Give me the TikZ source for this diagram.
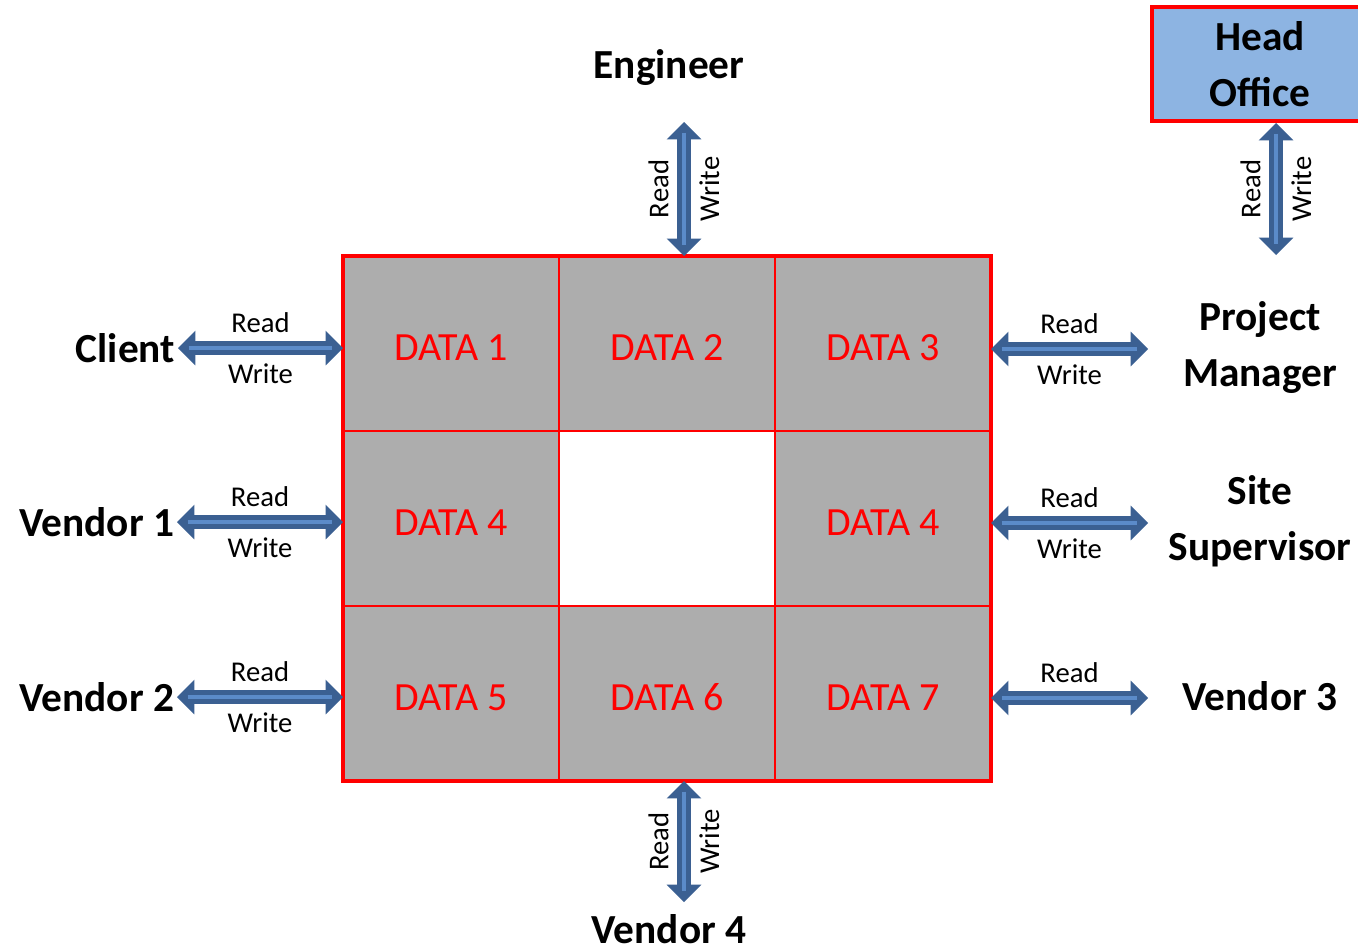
\documentclass[tikz,border=0pt]{standalone}
\usepackage{fontspec}
\setmainfont{Carlito}
\usetikzlibrary{
  arrows.meta,
  positioning
}
\definecolor{rwdark}{HTML}{3B6092}
\definecolor{rwlight}{HTML}{5B8BC9}
\definecolor{cellgray}{HTML}{ADADAD}
\definecolor{hofill}{HTML}{8DB4E2}

\begin{document}
\begin{tikzpicture}[
  x=0.75pt,
  y=-0.75pt,
  node distance=0pt,
  cell/.style={
    draw=red,
    line width=1.5pt,
    fill=cellgray,
    outer sep=0pt,
    inner sep=0pt,
    minimum width=162pt,
    minimum height=131.25pt,
    text=red,
    text height=25pt,
    font=\fontsize{30}{36}\selectfont
  },
  hole/.style={
    cell,
    fill=white
  },
  who/.style={
    font=\bfseries\fontsize{31}{42}\selectfont,
    align=center,
    inner sep=2pt
  },
  office/.style={
    who,
    draw=red,
    line width=3pt,
    fill=hofill,
    minimum width=162pt,
    minimum height=85.5pt
  },
  rwlabel/.style={
    font=\fontsize{21.5}{26}\selectfont,
    inner sep=6pt
  },
  rw/.style={
    draw=rwdark,
    line width=11pt,
    >={Triangle[width=26pt,length=13pt,line width=0pt]},
    <->,
    postaction={draw=rwlight, line width=3pt, -, shorten <=8pt, shorten >=8pt}
  },
  frame/.style={
    draw=red,
    line width=3pt
  }
]

\useasboundingbox (0,0) rectangle (1358,947);
\fill[white] (0,0) rectangle (1358,947);

% --- data grid ---
\node[cell] (d1) at (451,343.5) {DATA 1};
\node[cell,right=of d1] (d2) {DATA 2};
\node[cell,right=of d2] (d3) {DATA 3};
\node[cell,below=of d1] (d4) {DATA 4};
\node[hole,right=of d4] (mid) {};
\node[cell,right=of mid] (d4r) {DATA 4};
\node[cell,below=of d4] (d5) {DATA 5};
\node[cell,right=of d5] (d6) {DATA 6};
\node[cell,right=of d6] (d7) {DATA 7};
\draw[frame] (d1.north west) rectangle (d7.south east);

% --- parties ---
\node[who,anchor=east] (client) at (178,348) {Client};
\node[who,anchor=east] (ven1) at (177,522) {Vendor 1};
\node[who,anchor=east] (ven2) at (177,697) {Vendor 2};
\node[who] (pm) at (1260,347) {Project\\Manager};
\node[who] (site) at (1260,521) {Site\\Supervisor};
\node[who] (ven3) at (1260,696) {Vendor 3};
\node[who] (eng) at (669,67) {Engineer};
\node[who] (ven4) at (669,929) {Vendor 4};
\node[office] (ho) at (1260,64) {Head\\Office};

% --- arrow ends ---
\coordinate (engtip) at (684,122);
\coordinate (ven4tip) at (684,902);
\coordinate (hotip) at (1276,255);
\coordinate (pmtip) at (1148,349);
\coordinate (sitetip) at (1148,523);
\coordinate (ven3tip) at (1148,698);

% --- read / write links ---
\draw[rw] (client.east) --
  node[rwlabel,above]{Read} node[rwlabel,below]{Write} (client.east -| d1.west);
\draw[rw] (ven1.east) --
  node[rwlabel,above]{Read} node[rwlabel,below]{Write} (ven1.east -| d4.west);
\draw[rw] (ven2.east) --
  node[rwlabel,above]{Read} node[rwlabel,below]{Write} (ven2.east -| d5.west);
\draw[rw] (pmtip -| d3.east) --
  node[rwlabel,above]{Read} node[rwlabel,below]{Write} (pmtip);
\draw[rw] (sitetip -| d4r.east) --
  node[rwlabel,above]{Read} node[rwlabel,below]{Write} (sitetip);
\draw[rw] (ven3tip -| d7.east) --
  node[rwlabel,above]{Read} (ven3tip);
\draw[rw] (engtip) --
  node[rwlabel,rotate=90,above]{Read} node[rwlabel,rotate=90,below]{Write} (engtip |- d2.north);
\draw[rw] (ven4tip |- d6.south) --
  node[rwlabel,rotate=90,above]{Read} node[rwlabel,rotate=90,below]{Write} (ven4tip);
\draw[rw] (hotip |- ho.south) --
  node[rwlabel,rotate=90,above]{Read} node[rwlabel,rotate=90,below]{Write} (hotip);

\end{tikzpicture}
\end{document}
